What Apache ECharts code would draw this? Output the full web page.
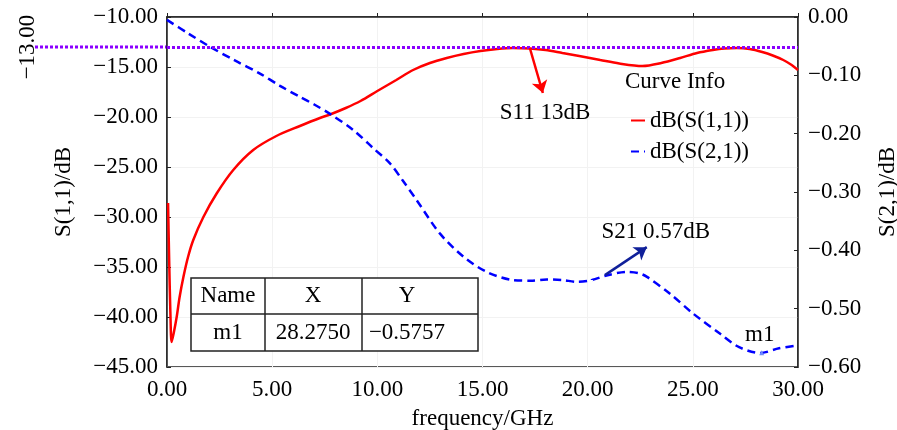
<!DOCTYPE html>
<html>
<head>
<meta charset="utf-8">
<script src="https://cdn.jsdelivr.net/npm/echarts@6/dist/echarts.min.js"></script>
<style>
  html, body { margin: 0; padding: 0; background: #fff; }
  #chart { width: 897px; height: 430px; }
</style>
</head>
<body>
<div id="chart"></div>
<script>
// S11 (left axis, dB)
const s11Freq = [0.05, 0.1, 0.16, 0.22, 0.32, 0.46, 0.6, 0.78, 1.0, 1.25, 1.73, 2.36, 3.15, 4.1, 5.2, 6.32, 7.27, 7.75, 8.5, 9.2, 10.0, 10.9, 11.7, 12.5, 13.3, 14.1, 14.9, 15.7, 16.45, 17.25, 18.0, 18.8, 19.6, 20.6, 21.5, 22.6, 23.5, 24.4, 25.2, 25.95, 26.5, 27.1, 27.7, 28.3, 28.8, 29.3, 29.7, 30];
const s11Vals = [-28.6, -34.0, -39.5, -42.5, -41.6, -40.0, -38.0, -36.0, -34.0, -32.3, -30.0, -27.65, -25.3, -23.3, -21.9, -20.9, -20.1, -19.75, -19.1, -18.4, -17.4, -16.3, -15.3, -14.6, -14.1, -13.7, -13.4, -13.2, -13.1, -13.15, -13.3, -13.6, -13.9, -14.3, -14.65, -14.9, -14.6, -14.1, -13.6, -13.3, -13.15, -13.1, -13.2, -13.5, -13.85, -14.3, -14.8, -15.3];

// S21 (right axis, dB)
const s21Freq = [0, 1.0, 2.04, 3.2, 4.42, 5.37, 6.32, 7.0, 7.75, 8.86, 9.81, 10.6, 11.2, 11.87, 12.97, 14.1, 15.2, 16.45, 17.3, 18.06, 18.8, 19.5, 20.2, 20.9, 21.85, 22.4, 22.8, 23.9, 25.0, 26.3, 27.2, 28.2, 29.1, 30];
const s21Vals = [-0.005, -0.028, -0.051, -0.074, -0.097, -0.118, -0.137, -0.150, -0.166, -0.194, -0.225, -0.251, -0.28, -0.314, -0.371, -0.411, -0.437, -0.451, -0.452, -0.450, -0.451, -0.454, -0.451, -0.443, -0.437, -0.439, -0.445, -0.474, -0.508, -0.543, -0.566, -0.576, -0.568, -0.563];

const refLevel = -13;
const s11Arrow = [[17.25, -13.1], [17.87, -17.6]];
const s11Label = [17.97, -19.6];
const s21Arrow = [[20.82, -0.4425], [22.81, -0.3945]];
const s21Label = [23.24, -0.369];
const marker = [28.275, -0.5757];
const markerLabel = [28.18, -0.545];

const tableHead = ['Name', 'X', 'Y'];
const tableRow = ['m1', '28.2750', '\u22120.5757'];

const FONT = "'Liberation Serif', 'Times New Roman', serif";
const FS = 23;
const fmt = v => v.toFixed(2).replace('-', '\u2212');

const chart = echarts.init(document.getElementById('chart'));

const axisCommon = {
  axisLine: { show: true, lineStyle: { color: '#222', width: 1.5 } },
  axisTick: { show: true, inside: true, length: 4, lineStyle: { color: '#222' } },
  axisLabel: { color: '#000', fontFamily: FONT, fontSize: FS, formatter: fmt },
  nameTextStyle: { color: '#000', fontFamily: FONT, fontSize: FS },
  splitLine: { show: true, lineStyle: { color: '#f2f2f2', width: 1 } }
};

const option = {
  animation: false,
  grid: { left: 167, right: 99, top: 17, bottom: 63, show: true, borderColor: '#222', borderWidth: 1.5, outerBoundsMode: 'none' },
  xAxis: Object.assign({}, axisCommon, {
    type: 'value', min: 0, max: 30, interval: 5,
    name: 'frequency/GHz', nameLocation: 'middle', nameGap: 40,
    axisLabel: Object.assign({}, axisCommon.axisLabel, { margin: 11 })
  }),
  yAxis: [
    Object.assign({}, axisCommon, {
      type: 'value', min: -45, max: -10, interval: 5,
      name: 'S(1,1)/dB', nameLocation: 'middle', nameGap: 92, nameRotate: 90,
      axisLabel: Object.assign({}, axisCommon.axisLabel, { margin: 9 })
    }),
    Object.assign({}, axisCommon, {
      type: 'value', min: -0.6, max: 0, interval: 0.1, position: 'right',
      name: 'S(2,1)/dB', nameLocation: 'middle', nameGap: 78, nameRotate: 90,
      splitLine: { show: false },
      axisLabel: Object.assign({}, axisCommon.axisLabel, { margin: 10 })
    })
  ],
  legend: {
    orient: 'vertical', left: 625, top: 104, itemWidth: 14, itemHeight: 10, itemGap: 8,
    itemStyle: { opacity: 0 },
    textStyle: { color: '#000', fontFamily: FONT, fontSize: FS },
    data: ['dB(S(1,1))', 'dB(S(2,1))']
  },
  series: [
    {
      name: 'dB(S(1,1))', type: 'line', yAxisIndex: 0,
      data: s11Freq.map((f, i) => [f, s11Vals[i]]),
      symbol: 'none', smooth: 0.3,
      color: '#ff0000', lineStyle: { width: 2.5, color: '#ff0000' },
      markLine: {
        silent: true, symbol: 'none', label: { show: false },
        data: [
          { yAxis: refLevel, lineStyle: { color: '#8a00ff', width: 3, type: [3, 2] } },
          [
            { coord: s11Arrow[0], symbol: 'none' },
            { coord: s11Arrow[1], symbol: 'arrow', symbolSize: 12 }
          ]
        ],
        lineStyle: { color: '#ff0000', width: 2.5, type: 'solid' }
      },
      markPoint: {
        silent: true, symbolSize: 0,
        label: { show: true, position: 'inside', color: '#000', fontFamily: FONT, fontSize: FS, formatter: '{b}' },
        data: [{ name: 'S11 13dB', coord: s11Label }]
      }
    },
    {
      name: 'dB(S(2,1))', type: 'line', yAxisIndex: 1,
      data: s21Freq.map((f, i) => [f, s21Vals[i]]),
      symbol: 'none', smooth: 0.3,
      color: '#0000ff', lineStyle: { width: 2.5, color: '#0000ff', type: [8, 5] },
      markLine: {
        silent: true, symbol: 'none', label: { show: false },
        lineStyle: { color: '#10209a', width: 2.5, type: 'solid' },
        data: [[
          { coord: s21Arrow[0], symbol: 'none' },
          { coord: s21Arrow[1], symbol: 'arrow', symbolSize: 12 }
        ]]
      },
      markPoint: {
        silent: true,
        label: { show: true, position: 'inside', color: '#000', fontFamily: FONT, fontSize: FS, formatter: '{b}' },
        data: [
          { name: 'S21 0.57dB', coord: s21Label, symbolSize: 0 },
          { name: 'm1', coord: markerLabel, symbolSize: 0 },
          { name: '', coord: marker, symbol: 'triangle', symbolSize: 5, itemStyle: { color: '#6f8cff' }, label: { show: false } }
        ]
      }
    }
  ]
};

chart.setOption(option);

// reference line extension + value, and marker table
const yRef = chart.convertToPixel({ yAxisIndex: 0 }, refLevel);
const xLeft = chart.convertToPixel({ xAxisIndex: 0 }, 0);
const colX = [191, 265, 362, 478];
const colText = [228, 313, 407];
const rowY = [278, 314, 351];
const tableEls = [
  { type: 'rect', shape: { x: colX[0], y: rowY[0], width: colX[3] - colX[0], height: rowY[2] - rowY[0] },
    style: { fill: '#fff', stroke: '#222', lineWidth: 1.5 } },
  { type: 'line', shape: { x1: colX[0], y1: rowY[1], x2: colX[3], y2: rowY[1] }, style: { stroke: '#222', lineWidth: 1.5 } },
  { type: 'line', shape: { x1: colX[1], y1: rowY[0], x2: colX[1], y2: rowY[2] }, style: { stroke: '#222', lineWidth: 1.5 } },
  { type: 'line', shape: { x1: colX[2], y1: rowY[0], x2: colX[2], y2: rowY[2] }, style: { stroke: '#222', lineWidth: 1.5 } }
];
[tableHead, tableRow].forEach((row, r) => {
  row.forEach((t, c) => {
    tableEls.push({
      type: 'text',
      x: colText[c], y: (rowY[r] + rowY[r + 1]) / 2,
      style: { text: t, fill: '#000', font: FS + 'px ' + FONT, align: 'center', verticalAlign: 'middle' }
    });
  });
});

chart.setOption({
  graphic: [
    { type: 'line', silent: true, shape: { x1: 35, y1: yRef, x2: xLeft, y2: yRef },
      style: { stroke: '#8a00ff', lineWidth: 3, lineDash: [3, 2] } },
    { type: 'text', silent: true, x: 28, y: yRef, rotation: Math.PI / 2,
      style: { text: '\u221213.00', fill: '#000', font: FS + 'px ' + FONT, align: 'center', verticalAlign: 'middle' } },
    { type: 'text', silent: true, left: 625, top: 70,
      style: { text: 'Curve Info', fill: '#000', font: FS + 'px ' + FONT } },
    { type: 'group', silent: true, children: tableEls }
  ]
});
</script>
</body>
</html>
